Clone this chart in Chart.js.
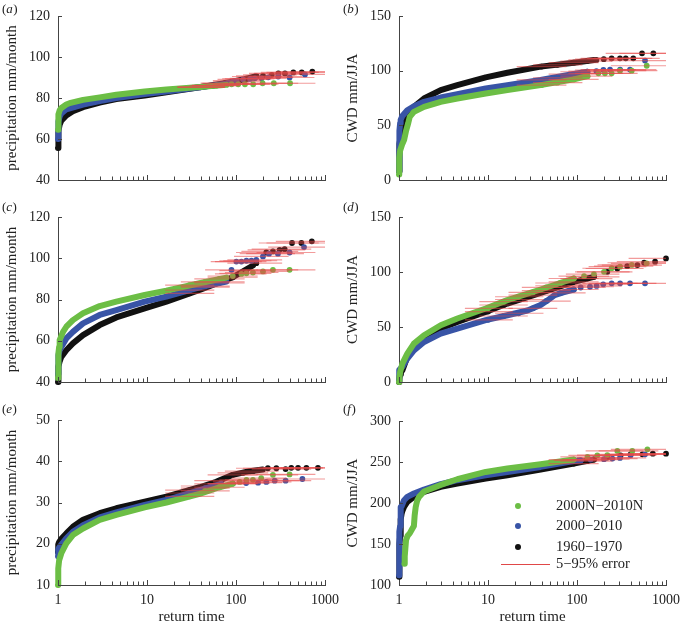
<!DOCTYPE html>
<html>
<head>
<meta charset="utf-8">
<script src="https://cdn.jsdelivr.net/npm/chart.js@4.4.1/dist/chart.umd.min.js"></script>
<style>
html,body{margin:0;padding:0;background:#fff;}
#wrap{position:relative;width:682px;height:626px;overflow:hidden;background:#fff;}
canvas{position:absolute;}
</style>
</head>
<body>
<div id="wrap"></div>
<script>
// ---------------- DATA (return time, value) ----------------
// curve = dense part of each ranked series; tail = [returnTime, value, errLo, errHi]
const SERIES_NAMES = ['2000N\u22122010N', '2000\u22122010', '1960\u22121970'];
const ERROR_NAME = '5\u221295% error';
const X_DECADES = [1, 10, 100];
const X_LABELS = [1, 10, 100, 1000];

// (a) precipitation
const aBlackCurve = [[1,55.6],[1.003,57.5],[1.01,61],[1.02,64],[1.044,67],[1.09,69],[1.24,71.5],[1.47,73.5],[1.91,75.5],[2.94,77.8],[4.52,79.5],[9.42,81.2],[16.5,82.8],[39,85.2],[78,87.3],[120,89],[165,90.5]];
const aBlackTail = [[40,85.3,22,75],[55,86,30,100],[75,87.3,40,140],[100,88.3,55,190],[130,89.4,70,250],[171,90.5,90,330],[201,90.8,100,400],[252,91.3,120,480],[299,92,140,560],[355,92,160,700],[441,92.5,190,850],[548,92.5,220,1000],[720,92.9,280,1000]];
const aBlueCurve = [[1,60],[1.003,63],[1.01,66],[1.02,68.5],[1.044,71],[1.09,72.5],[1.24,74.5],[1.91,76.8],[2.94,78.5],[4.52,80],[9.42,81.9],[16.5,83.2],[39,85.2],[78,87],[100,88.3]];
const aBlueTail = [[40,85.2,22,75],[60,86.2,32,110],[80,87.2,42,150],[102,88.4,55,190],[120,89.1,62,230],[144,89.3,75,270],[163,89.6,85,310],[194,89.6,100,370],[230,90.1,115,440],[298,90.5,140,560],[400,90,170,760],[596,91.5,230,1000]];
const aGreenCurve = [[1,64.5],[1.003,68],[1.01,70.5],[1.02,72],[1.044,74],[1.09,75.1],[1.24,76.8],[1.35,77.5],[1.91,79.1],[2.94,80.3],[4.52,81.6],[9.42,83.2],[16.5,84.1],[39,85.4],[78,86.4]];
const aGreenTail = [[40,85.4,22,75],[60,86,32,110],[89,86.7,45,170],[106,86.7,55,200],[126,86.7,62,240],[156,86.7,75,300],[199,87.2,95,380],[266,87.2,120,500],[405,87.2,170,780]];

// (b) CWD
const bBlackCurve = [[1,8],[1.003,15],[1.01,25],[1.02,33],[1.044,40],[1.09,45],[1.14,52],[1.24,58],[1.47,66.9],[1.91,74.5],[2.94,82.2],[4.52,86.8],[9.42,93.9],[16.5,98.1],[39,103.7],[92,107.3],[155,109.8]];
const bBlackTail = [[40,103.7,21,76],[60,105.3,32,115],[92,107.3,48,175],[130,108.8,65,250],[165,109.8,80,320],[200,110.5,95,400],[245,111.3,110,480],[304,111.3,130,600],[353,111.3,150,700],[429,111.3,175,850],[538,115.9,210,1000],[721,115.9,300,1000]];
const bBlueCurve = [[1,8],[1.003,20],[1.01,35],[1.02,45],[1.03,52],[1.044,55],[1.09,58.5],[1.24,63.8],[1.47,67.5],[1.91,71.5],[2.94,75.4],[4.52,78.5],[9.42,83.7],[16.5,86.8],[39,91.4],[92,96.9],[131,99]];
const bBlueTail = [[40,91.5,21,76],[60,93.5,32,115],[92,96.9,48,175],[131,99,65,250],[165,99.6,80,320],[198,100.6,95,390],[235,101,110,460],[305,101,130,600],[394,101,165,780],[581,109.2,230,1000]];
const bGreenCurve = [[1,5],[1.003,12],[1.01,20],[1.03,27],[1.09,33],[1.14,36.5],[1.2,45],[1.27,52],[1.32,57.7],[1.47,62.3],[1.91,66.9],[2.94,71.5],[4.52,74.5],[9.42,79.1],[16.5,82.2],[39,86.8],[92,92],[131,95]];
const bGreenTail = [[40,86.8,21,76],[60,89,32,115],[92,92,48,175],[131,95,65,250],[174,97.6,80,330],[206,97.6,95,400],[245,97.6,110,480],[304,100,130,600],[412,100,170,800],[607,104.5,240,1000]];

// (c) precipitation
const cBlackCurve = [[1,40],[1.003,42],[1.01,45],[1.02,47.5],[1.044,50],[1.09,52.2],[1.24,55.4],[1.47,58.7],[1.91,62.7],[2.94,67.6],[4.52,71.3],[9.42,75.7],[16.5,79],[39,84.6],[92,90.8],[155,96.5]];
const cBlackTail = [[30,83,16,57],[45,86,24,85],[65,88.5,34,125],[92,90.8,48,175],[130,94,65,250],[169,97.6,80,330],[219,102.8,100,420],[260,103.3,115,500],[309,104.1,135,600],[352,104.4,150,700],[426,107.4,180,850],[543,107.4,220,1000],[711,108.2,280,1000]];
const cBlueCurve = [[1,44],[1.003,47],[1.01,50],[1.02,53],[1.044,55.5],[1.09,57],[1.24,61.1],[1.47,64.3],[1.91,68.4],[2.94,72.5],[4.52,74.9],[9.42,79],[16.5,81.4],[39,85.9],[78,88.7]];
const cBlueTail = [[30,84.5,16,57],[45,86.5,24,85],[65,88,34,125],[89,94.4,45,175],[101,98.4,52,195],[115,98.4,58,220],[131,98.8,65,250],[149,98.8,72,290],[169,99.2,80,330],[201,100.9,95,390],[235,102.2,110,460],[296,102.2,130,580],[400,102.8,170,780],[581,105.4,230,1000]];
const cGreenCurve = [[1,42],[1.003,46],[1.01,50],[1.02,54],[1.03,57],[1.044,60.3],[1.14,64.3],[1.24,66.8],[1.47,70],[1.91,73.3],[2.94,76.8],[4.52,79],[9.42,82.2],[16.5,84.3],[39,87.9],[78,90.6]];
const cGreenTail = [[30,87,16,57],[45,88.5,24,85],[65,90,34,125],[92,91.4,48,175],[115,92.4,58,220],[131,92.7,65,250],[155,93.1,75,300],[201,93.6,95,390],[260,94.4,115,500],[400,94.4,170,780]];

// (d) CWD
const dBlackCurve = [[1,0],[1.01,3],[1.03,7],[1.05,9],[1.09,10.6],[1.24,22.8],[1.47,30.4],[1.91,39.5],[2.94,48.6],[4.52,54.6],[9.42,63.8],[16.5,71.3],[39,81.1],[92,91.1],[155,95.6]];
const dBlackTail = [[10,64,5.5,19],[15,70,8,28],[22,75,12,42],[32,79,17,60],[45,83,24,85],[65,87.5,34,125],[92,91.1,48,175],[130,94,65,250],[155,95.6,75,300],[219,100.2,100,420],[284,103.2,125,560],[367,105.3,155,720],[477,106.3,190,900],[568,108.4,220,1000],[754,109.4,280,1000],[1000,112.3,380,1000]];
const dBlueCurve = [[1,2],[1.003,8],[1.01,11],[1.09,13.7],[1.24,21.3],[1.47,28.8],[1.91,36.4],[2.94,44],[4.52,48.6],[9.42,56.2],[16.5,60.7],[27.7,65],[39,70],[46.3,74],[56,79],[70,81.5],[92,84.1]];
const dBlueTail = [[10,56.5,5.5,19],[15,60,8,28],[22,62.5,12,42],[32,67,17,60],[45,73.5,24,85],[65,81,34,125],[92,84.1,48,175],[110,85.9,55,210],[140,86.6,65,260],[166,87.3,78,320],[197,88.8,95,380],[245,89.7,115,480],[305,89.7,135,600],[394,89.7,165,780],[581,89.7,230,1000]];
const dGreenCurve = [[1,0],[1.01,4],[1.03,9],[1.09,16.7],[1.24,25.8],[1.47,34.9],[1.91,42.5],[2.94,51.6],[4.52,57.7],[9.42,66.8],[16.5,74.4],[39,84.1],[92,94.1]];
const dGreenTail = [[10,67,5.5,19],[15,73,8,28],[22,77.5,12,42],[32,81.5,17,60],[45,86,24,85],[65,90,34,125],[92,94.1,48,175],[120,96.2,62,230],[155,98.1,75,300],[201,100.2,95,390],[245,103.4,115,480],[305,104.8,135,600],[412,106.4,170,800],[607,107.9,240,1000]];

// (e) precipitation
const eBlackCurve = [[1,18],[1.003,19],[1.01,19.8],[1.03,20.4],[1.09,21.2],[1.24,22.5],[1.47,24.1],[1.91,25.8],[2.94,27.4],[4.52,28.6],[9.42,30.2],[16.5,31.4],[39,33.7],[60,35],[92,36.7],[142,37.6],[200,38]];
const eBlackTail = [[30,33,16,57],[45,34,24,85],[65,35.3,34,125],[92,36.7,48,175],[120,37.2,62,230],[155,37.6,75,300],[228,38.3,100,420],[284,38.3,120,540],[361,38.1,150,700],[418,38.4,175,820],[498,38.4,200,950],[618,38.4,240,1000],[833,38.4,320,1000]];
const eBlueCurve = [[1,17],[1.003,18],[1.01,18.6],[1.03,19.1],[1.09,19.8],[1.24,21.3],[1.47,22.9],[1.91,24.5],[2.94,26.4],[4.52,27.6],[9.42,29.4],[16.5,30.6],[39,33],[68,34.5]];
const eBlueTail = [[30,32.3,16,57],[45,33.5,24,85],[68,34.5,34,125],[92,34.6,48,175],[130,34.7,62,240],[177,34.8,80,330],[219,35,100,420],[272,35.3,120,520],[361,35.3,150,700],[557,35.7,220,1000]];
const eGreenCurve = [[1,10],[1.003,12],[1.01,14],[1.03,16],[1.09,17.7],[1.24,20.1],[1.47,22.1],[1.91,23.7],[2.94,25.8],[4.52,27],[9.42,28.8],[16.5,30],[39,32.1],[65,33.7],[92,34.6]];
const eGreenTail = [[30,31.5,16,57],[45,32.8,24,85],[65,33.7,34,125],[92,34.6,48,175],[110,35,55,210],[131,35.5,65,250],[155,35.5,75,300],[192,35.9,90,370],[260,36.7,115,500],[400,36.8,170,780]];

// (f) CWD
const fBlackCurve = [[1,110],[1.003,125],[1.01,140],[1.02,150],[1.03,160],[1.04,170],[1.05,180],[1.07,187],[1.09,190],[1.14,195.3],[1.24,201.4],[1.47,207.5],[1.91,213.6],[2.94,219.7],[4.52,223.7],[9.42,229.8],[16.5,233.9],[39,240.8],[92,248.1],[155,253]];
const fBlackTail = [[92,248.1,48,175],[130,251,65,250],[155,253,75,300],[219,255.4,100,420],[309,258.2,135,600],[400,259.4,170,780],[543,259.4,220,1000],[711,260.2,280,1000],[1000,260.2,380,1000]];
const fBlueCurve = [[1,112],[1.002,125],[1.005,140],[1.01,155],[1.02,165],[1.03,172],[1.04,185],[1.05,195],[1.07,196],[1.14,203.4],[1.24,207.5],[1.47,211.6],[1.91,216.4],[2.94,222.9],[4.52,227.8],[9.42,233.9],[16.5,237.9],[39,244],[92,251.3],[110,252]];
const fBlueTail = [[110,252.1,55,210],[142,253,70,270],[201,253.5,95,390],[250,254.2,115,480],[304,255,135,600],[400,258.2,170,780],[581,259.4,230,1000]];
const fGreenCurve = [[1.15,126],[1.16,135],[1.18,145],[1.2,155],[1.25,160],[1.32,163],[1.4,168],[1.47,172],[1.5,185],[1.54,195],[1.6,203],[1.68,207.5],[1.91,214],[2.94,222],[4.52,229],[9.42,237.9],[16.5,242],[39,247.3],[92,253]];
const fGreenTail = [[92,253,48,175],[131,256.2,65,250],[169,258.2,80,330],[219,258.5,100,420],[284,263.5,125,560],[418,263.5,175,820],[618,265.5,240,1000]];

// ---------------- STYLE ----------------
const GREEN = '#6cbe45', BLUE = '#3854a6', BLACK = '#111111';
const ERR = 'rgba(232,72,72,0.55)', ERR_SOLID = '#e04848';
const AXIS = '#444444', TEXT = '#222222';
const SERIF = '"Liberation Serif", "Times New Roman", "DejaVu Serif", serif';

const PANELS = [
  {tag:'a', left:0,   top:0,   w:341, h:200, caTop:16, caBottom:180, yMin:40,  yMax:120, yStep:20, yTitle:'precipitation mm/month', showX:false, labelY:10,
   series:[[aBlackCurve,aBlackTail,BLACK],[aBlueCurve,aBlueTail,BLUE],[aGreenCurve,aGreenTail,GREEN]]},
  {tag:'b', left:341, top:0,   w:341, h:200, caTop:16, caBottom:180, yMin:0,   yMax:150, yStep:50, yTitle:'CWD mm/JJA', showX:false, labelY:10,
   series:[[bBlackCurve,bBlackTail,BLACK],[bBlueCurve,bBlueTail,BLUE],[bGreenCurve,bGreenTail,GREEN]]},
  {tag:'c', left:0,   top:200, w:341, h:200, caTop:17, caBottom:182, yMin:40,  yMax:120, yStep:20, yTitle:'precipitation mm/month', showX:false, labelY:8,
   series:[[cBlackCurve,cBlackTail,BLACK],[cBlueCurve,cBlueTail,BLUE],[cGreenCurve,cGreenTail,GREEN]]},
  {tag:'d', left:341, top:200, w:341, h:200, caTop:17, caBottom:182, yMin:0,   yMax:150, yStep:50, yTitle:'CWD mm/JJA', showX:false, labelY:8,
   series:[[dBlackCurve,dBlackTail,BLACK],[dBlueCurve,dBlueTail,BLUE],[dGreenCurve,dGreenTail,GREEN]]},
  {tag:'e', left:0,   top:400, w:341, h:226, caTop:20, caBottom:185, yMin:10,  yMax:50,  yStep:10, yTitle:'precipitation mm/month', showX:true, labelY:10,
   series:[[eBlackCurve,eBlackTail,BLACK],[eBlueCurve,eBlueTail,BLUE],[eGreenCurve,eGreenTail,GREEN]]},
  {tag:'f', left:341, top:400, w:341, h:226, caTop:21, caBottom:185, yMin:100, yMax:300, yStep:50, yTitle:'CWD mm/JJA', showX:true, labelY:10, legend:true,
   series:[[fBlackCurve,fBlackTail,BLACK],[fBlueCurve,fBlueTail,BLUE],[fGreenCurve,fGreenTail,GREEN]]}
];

const X_TICKS = X_DECADES.flatMap(d => [1,2,3,4,5,6,7,8,9].map(m => m * d)).concat([1000]);
const isLabel = v => X_LABELS.indexOf(v) >= 0;

const toXY = arr => arr.map(p => ({x: p[0], y: p[1]}));

const tickPlugin = {
  id: 'inTicks',
  afterDraw(chart) {
    const ctx = chart.ctx, ca = chart.chartArea, xs = chart.scales.x, ys = chart.scales.y;
    ctx.save();
    ctx.strokeStyle = AXIS; ctx.lineWidth = 1;
    ctx.beginPath();
    xs.ticks.forEach(t => {
      const px = Math.round(xs.getPixelForValue(t.value)) + 0.5;
      const len = isLabel(t.value) ? 5 : 3.5;
      ctx.moveTo(px, ca.bottom); ctx.lineTo(px, ca.bottom - len);
    });
    ys.ticks.forEach(t => {
      const py = Math.round(ys.getPixelForValue(t.value)) + 0.5;
      ctx.moveTo(ca.left, py); ctx.lineTo(ca.left + 4, py);
    });
    ctx.stroke();
    ctx.restore();
  }
};

const errPlugin = {
  id: 'errBars',
  afterDatasetsDraw(chart) {
    const ctx = chart.ctx, ca = chart.chartArea, xs = chart.scales.x, ys = chart.scales.y;
    ctx.save();
    ctx.beginPath(); ctx.rect(ca.left, ca.top - 5, ca.right - ca.left + 3, ca.bottom - ca.top + 5); ctx.clip();
    ctx.strokeStyle = ERR; ctx.lineWidth = 1.2;
    chart.config.options.plugins.errBars.tails.forEach(tail => {
      tail.forEach(p => {
        const y = ys.getPixelForValue(p[1]);
        ctx.beginPath();
        ctx.moveTo(xs.getPixelForValue(p[2]), y);
        ctx.lineTo(xs.getPixelForValue(p[3]), y);
        ctx.stroke();
      });
    });
    ctx.restore();
  }
};

const labelPlugin = {
  id: 'panelLabel',
  afterDraw(chart) {
    const o = chart.config.options.plugins.panelLabel;
    const ctx = chart.ctx;
    ctx.save();
    ctx.fillStyle = TEXT; ctx.textBaseline = 'middle'; ctx.textAlign = 'left';
    let x = 2; const y = o.y;
    ctx.font = '13px ' + SERIF;
    ctx.fillText('(', x, y); x += ctx.measureText('(').width;
    ctx.font = 'italic 13px ' + SERIF;
    ctx.fillText(o.tag, x, y); x += ctx.measureText(o.tag).width + 0.5;
    ctx.font = '13px ' + SERIF;
    ctx.fillText(')', x, y);
    ctx.restore();
  }
};

const legendPlugin = {
  id: 'innerLegend',
  afterDraw(chart) {
    const o = chart.config.options.plugins.innerLegend;
    if (!o.show) return;
    const ctx = chart.ctx;
    const cols = [GREEN, BLUE, BLACK];
    const ys = [106, 126, 147];
    ctx.save();
    ctx.font = '14.5px ' + SERIF; ctx.textBaseline = 'middle'; ctx.fillStyle = TEXT;
    SERIES_NAMES.forEach((n, i) => {
      ctx.fillStyle = cols[i];
      ctx.beginPath(); ctx.arc(177, ys[i], 3, 0, Math.PI * 2); ctx.fill();
      ctx.fillStyle = TEXT;
      ctx.fillText(n, 215, ys[i]);
    });
    ctx.strokeStyle = ERR_SOLID; ctx.lineWidth = 1;
    ctx.beginPath(); ctx.moveTo(160, 164.5); ctx.lineTo(209, 164.5); ctx.stroke();
    ctx.fillText(ERROR_NAME, 215, 164);
    ctx.restore();
  }
};

const wrap = document.getElementById('wrap');
PANELS.forEach(P => {
  const cv = document.createElement('canvas');
  cv.width = P.w; cv.height = P.h;
  cv.style.left = P.left + 'px'; cv.style.top = P.top + 'px';
  cv.style.width = P.w + 'px'; cv.style.height = P.h + 'px';
  wrap.appendChild(cv);

  // Chart.js paints index 0 last, so list the series from top-most (green) to bottom-most (black)
  const datasets = [];
  P.series.slice().reverse().forEach(s => {
    datasets.push({data: toXY(s[1]), showLine: false, pointRadius: 2.9, pointBorderWidth: 0,
      backgroundColor: s[2], borderColor: s[2], clip: false});
    datasets.push({data: toXY(s[0]), showLine: true, pointRadius: 0, borderWidth: 6, borderColor: s[2],
      backgroundColor: s[2], borderCapStyle: 'round', borderJoinStyle: 'round', tension: 0, clip: false});
  });

  new Chart(cv, {
    type: 'scatter',
    data: {datasets},
    options: {
      responsive: false, animation: false, devicePixelRatio: 1, events: [],
      layout: {padding: {left: 0, right: P.w - 325, top: P.caTop, bottom: 0}},
      plugins: {
        legend: {display: false}, tooltip: {enabled: false},
        errBars: {tails: P.series.map(s => s[1])},
        panelLabel: {tag: P.tag, y: P.labelY},
        innerLegend: {show: !!P.legend}
      },
      scales: {
        x: {
          type: 'logarithmic', position: 'bottom', min: 1, max: 1000,
          grid: {display: false, drawTicks: false},
          border: {display: true, color: AXIS, width: 1},
          ticks: {display: P.showX, autoSkip: false, maxRotation: 0, minRotation: 0, padding: 7,
            color: TEXT, font: {family: SERIF, size: 14},
            callback: v => isLabel(v) ? String(v) : ''},
          title: {display: P.showX, text: 'return time', color: TEXT, font: {family: SERIF, size: 15}, padding: {top: 0, bottom: 0}},
          afterBuildTicks: s => { s.ticks = X_TICKS.map(v => ({value: v})); },
          afterFit: s => { s.height = P.h - P.caBottom; s.paddingLeft = 0; s.paddingRight = 0; }
        },
        y: {
          min: P.yMin, max: P.yMax,
          grid: {display: false, drawTicks: false},
          border: {display: true, color: AXIS, width: 1},
          ticks: {stepSize: P.yStep, padding: 8, color: TEXT, font: {family: SERIF, size: 14}},
          title: {display: true, text: P.yTitle, color: TEXT, font: {family: SERIF, size: 15}, padding: {top: 3, bottom: 0}},
          afterFit: s => { s.width = 58; s.paddingTop = 0; s.paddingBottom = 0; }
        }
      }
    },
    plugins: [errPlugin, tickPlugin, labelPlugin, legendPlugin]
  });
});
</script>
</body>
</html>
